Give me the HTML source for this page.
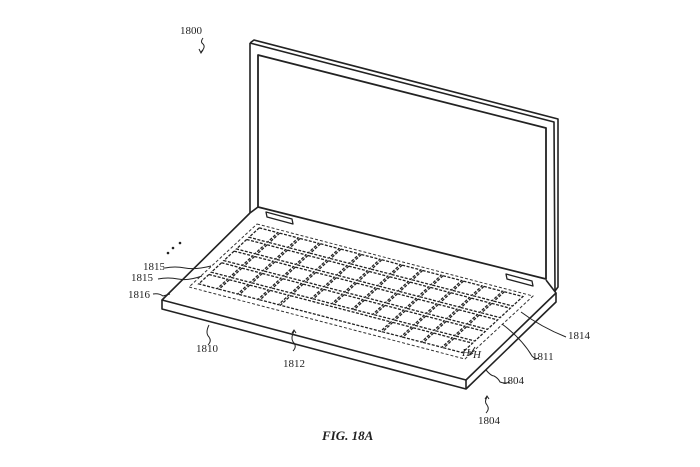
<!DOCTYPE html>
<html><head><style>
html,body{margin:0;padding:0;background:#fff;width:700px;height:467px;overflow:hidden}
svg text{font-family:"Liberation Serif",serif;font-size:11px;fill:#222}
</style></head><body>
<svg width="700" height="467" viewBox="0 0 700 467" xmlns="http://www.w3.org/2000/svg" xmlns:xlink="http://www.w3.org/1999/xlink">
<g fill="none" stroke="#222" stroke-width="1.6" stroke-linejoin="round">
<path d="M250,43 L254,40 L558,119 L558,287 L555,291"/>
<path d="M250,43 L554,122 L555,291"/>
<path d="M250,43 L250,213"/>
<path d="M258,55 L546,128 L546,279 L258,207 Z" stroke-width="1.8"/>
<path d="M266,212 L292,219 L293,224 L267,217 Z" stroke-width="1.3"/>
<path d="M506,274 L532,281 L533,286 L507,279 Z" stroke-width="1.3"/>
<path d="M250,213 L162,300 L466,380 L556,293 L546,280"/>
<path d="M162,300 L162,309 L466,389 L556,302 L556,293"/>
<path d="M466,380 L466,389"/>
<path d="M250,213 L258,207"/>
</g>
<defs>
<rect id="k" x="0" y="0" width="0.067" height="0.15" vector-effect="non-scaling-stroke"/>
<g id="row">
<use xlink:href="#k" href="#k" x="0.018"/>
<use xlink:href="#k" href="#k" x="0.092"/>
<use xlink:href="#k" href="#k" x="0.166"/>
<use xlink:href="#k" href="#k" x="0.240"/>
<use xlink:href="#k" href="#k" x="0.314"/>
<use xlink:href="#k" href="#k" x="0.388"/>
<use xlink:href="#k" href="#k" x="0.462"/>
<use xlink:href="#k" href="#k" x="0.536"/>
<use xlink:href="#k" href="#k" x="0.610"/>
<use xlink:href="#k" href="#k" x="0.684"/>
<use xlink:href="#k" href="#k" x="0.758"/>
<use xlink:href="#k" href="#k" x="0.832"/>
<use xlink:href="#k" href="#k" x="0.906"/>
</g>
</defs>
<g transform="matrix(276,72,-68,63,257,224)" fill="none" stroke="#333" stroke-width="1" stroke-dasharray="3,2">
<path vector-effect="non-scaling-stroke" d="M0,0 H1 V1 H0 Z"/>
</g>
<g transform="matrix(276,72,-68,63,257,224)" fill="none" stroke="#222" stroke-width="1.3" stroke-dasharray="3,1.5">
<use xlink:href="#row" href="#row" y="0.04"/>
<use xlink:href="#row" href="#row" y="0.225"/>
<use xlink:href="#row" href="#row" y="0.41"/>
<use xlink:href="#row" href="#row" y="0.595"/>
<use xlink:href="#k" href="#k" x="0.018" y="0.78"/>
<use xlink:href="#k" href="#k" x="0.092" y="0.78"/>
<use xlink:href="#k" href="#k" x="0.166" y="0.78"/>
<use xlink:href="#k" href="#k" x="0.240" y="0.78"/>
<rect vector-effect="non-scaling-stroke" x="0.314" y="0.78" width="0.363" height="0.15"/>
<use xlink:href="#k" href="#k" x="0.684" y="0.78"/>
<use xlink:href="#k" href="#k" x="0.758" y="0.78"/>
<use xlink:href="#k" href="#k" x="0.832" y="0.78"/>
<use xlink:href="#k" href="#k" x="0.906" y="0.78"/>
</g>
<g fill="none" stroke="#222" stroke-width="1">
<path d="M203,38 q-3,4 0,6 q3,3 -2,8"/><path d="M199,49 l2,4 l2,-3"/>
<path d="M165,268 q10,-2 20,0 q10,2 26,-2"/>
<path d="M158,279 q10,-2 20,0 q10,2 24,-3"/>
<path d="M153,294 q6,-1 10,2 l7,-2"/>
<path d="M209,325 q-4,8 0,12 q3,4 -1,8"/>
<path d="M294,331 q-4,8 0,12 q3,4 -1,8"/><path d="M292,333 l2,-3 l2,3"/>
<path d="M521,312 q20,15 45,25"/>
<path d="M502,324 q20,15 30,32 q4,4 6,2"/>
<path d="M486,370 q5,6 8,6 q4,2 6,6 q5,2 10,0"/>
<path d="M487,397 q-3,5 0,8 q3,4 -1,8"/><path d="M485,399 l2,-3 l2,3"/>
<path d="M475,347 l-5,8"/><path d="M470,355 l0,-4 m0,4 l3,-2"/>
</g>
<g fill="#222"><circle cx="168" cy="253" r="1.3"/><circle cx="173" cy="248" r="1.3"/><circle cx="180" cy="243" r="1.3"/></g>
<text x="180" y="34">1800</text>
<text x="143" y="270">1815</text>
<text x="131" y="281">1815</text>
<text x="128" y="298">1816</text>
<text x="196" y="352">1810</text>
<text x="283" y="367">1812</text>
<text x="568" y="339">1814</text>
<text x="532" y="360">1811</text>
<text x="502" y="384">1804</text>
<text x="478" y="424">1804</text>
<text x="462" y="356" font-style="italic">H</text>
<text x="473" y="358" font-style="italic">H</text>
<text x="322" y="440" style="font-size:13px;font-style:italic;font-weight:bold">FIG. 18A</text>
</svg>
</body></html>
